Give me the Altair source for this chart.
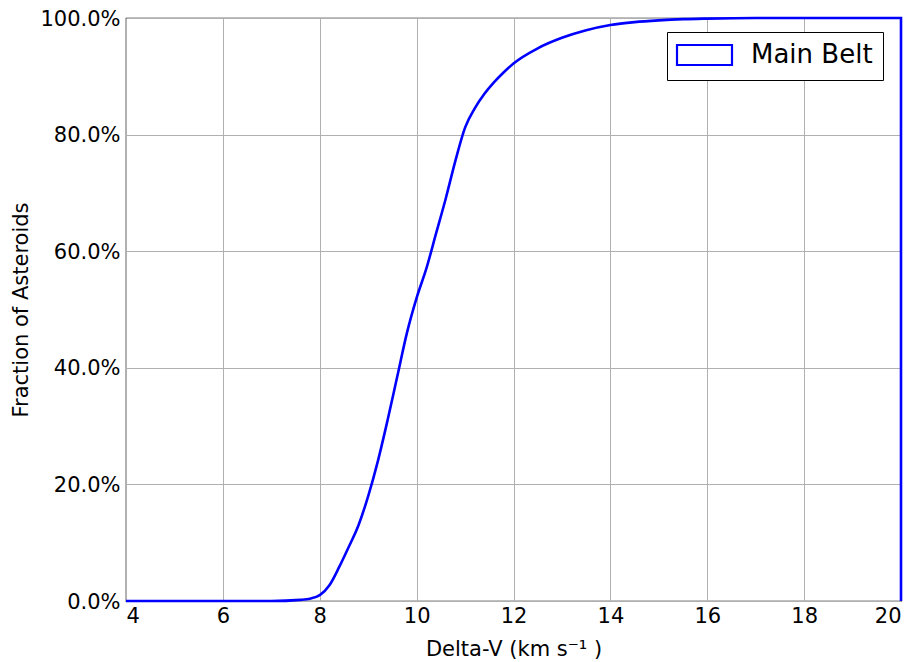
import altair as alt
import pandas as pd

# Cumulative fraction of main-belt asteroids vs delta-V
delta_v = [4.0, 7.0, 7.6, 7.8, 8.0, 8.2, 8.4, 8.6, 8.8, 9.0, 9.2, 9.4, 9.6, 9.8,
           10.0, 10.2, 10.4, 10.6, 10.8, 11.0, 11.2, 11.4, 11.6, 11.8, 12.0,
           12.5, 13.0, 13.5, 14.0, 14.5, 15.0, 15.5, 16.0, 17.0, 18.0, 19.0,
           20.0, 20.0]
fraction = [0.0, 0.0, 0.002, 0.004, 0.01, 0.027, 0.058, 0.093, 0.13, 0.18,
            0.24, 0.31, 0.385, 0.46, 0.52, 0.57, 0.63, 0.69, 0.755, 0.812,
            0.845, 0.87, 0.89, 0.907, 0.922, 0.948, 0.966, 0.979, 0.988,
            0.993, 0.996, 0.998, 0.999, 1.0, 1.0, 1.0, 1.0, 0.0]
series_name = "Main Belt"
x_ticks = [4, 6, 8, 10, 12, 14, 16, 18, 20]
y_ticks = [0.0, 0.2, 0.4, 0.6, 0.8, 1.0]

df = pd.DataFrame({
    "dv": delta_v,
    "frac": fraction,
    "idx": list(range(len(delta_v))),
    "series": [series_name] * len(delta_v),
})

FONT = "DejaVu Sans"

chart = alt.Chart(df).mark_line(strokeWidth=2.6, clip=False, interpolate="monotone").encode(
    x=alt.X("dv:Q", scale=alt.Scale(domain=[4, 20], nice=False, zero=False),
            axis=alt.Axis(values=x_ticks, title="Delta-V (km s⁻¹ )",
                          labelBaseline="alphabetic", labelPadding=21,
                          titleY=54, titleBaseline="alphabetic")),
    y=alt.Y("frac:Q", scale=alt.Scale(domain=[0, 1], nice=False),
            axis=alt.Axis(values=y_ticks, format=".1%", title="Fraction of Asteroids",
                          labelPadding=6, labelOffset=1,
                          titleX=-99, titleY=291.5, titleAngle=-90,
                          titleAlign="center", titleBaseline="alphabetic")),
    order="idx:Q",
    color=alt.Color("series:N",
                    scale=alt.Scale(domain=[series_name], range=["#0000ff"]),
                    legend=alt.Legend(
                        title=None, orient="none", legendX=541, legendY=14,
                        symbolType="M-1.3,-1L4.2,-1L4.2,1L-1.3,1Z",
                        symbolSize=400, symbolStrokeWidth=2.2,
                        symbolFillColor="white", symbolStrokeColor="#0000ff",
                        labelFontSize=26, labelFont=FONT, labelColor="#000000",
                        labelOffset=48, padding=10, strokeColor="#000000",
                        fillColor="white", cornerRadius=0)),
).properties(
    width=775,
    height=583,
    autosize=alt.AutoSizeParams(type="none"),
    padding={"left": 118, "top": 10, "right": 6, "bottom": 60},
).configure(
    font=FONT,
    background="white",
).configure_view(
    stroke="#000000",
    strokeWidth=1.2,
).configure_axis(
    grid=True,
    gridColor="#b0b0b0",
    gridWidth=1,
    domain=False,
    ticks=False,
    labelFont=FONT,
    labelFontSize=21,
    labelColor="#000000",
    titleFont=FONT,
    titleFontSize=21,
    titleFontWeight="normal",
    titleColor="#000000",
)

chart.save("out.html", embed_options={"renderer": "svg", "actions": False})
